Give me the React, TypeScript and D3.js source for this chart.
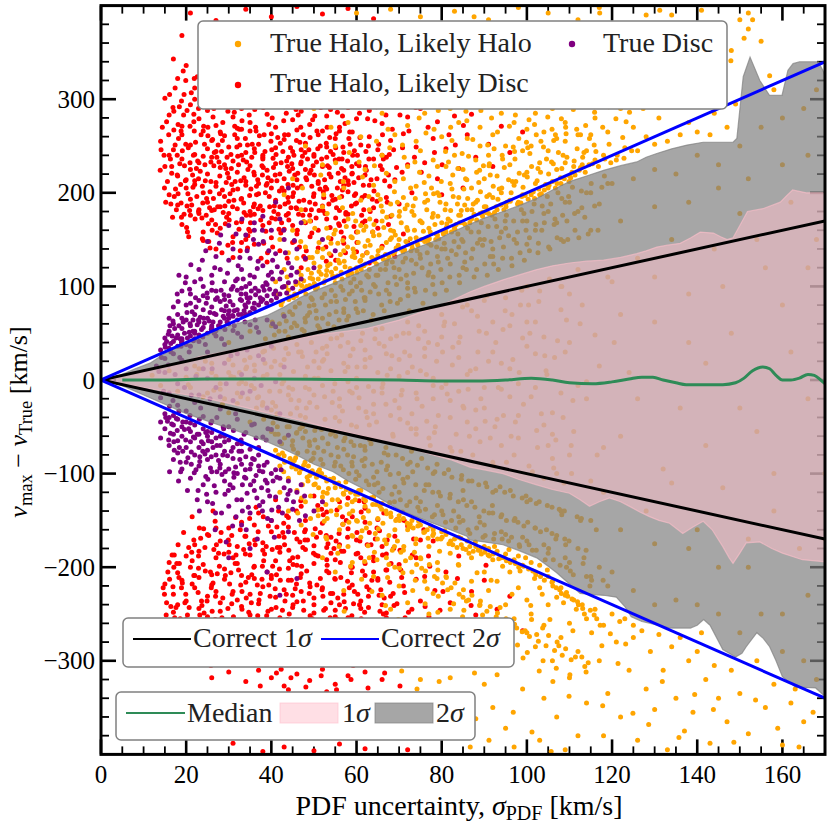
import React from "react";
import * as d3 from "d3";

type P = [number, number];

// ---- axis ticks ----
const X_MAJOR = [0, 20, 40, 60, 80, 100, 120, 140, 160];
const Y_MAJOR = [-300, -200, -100, 0, 100, 200, 300];

// ---- correct-width reference lines (sigma_PDF vs offset) ----
const correct1: P[] = [[0, 0], [170, 170]];
const correct1Low: P[] = [[0, 0], [170, -170]];
const correct2: P[] = [[0, 0], [170, 340]];
const correct2Low: P[] = [[0, 0], [170, -340]];

// ---- running median ----
const median: P[] = [[5,0],[15,0],[25,1],[40,1],[55,0.5],[70,0],[80,-1],[88,-1],[95,0],[101,2],[106,0],[110,-3],[115.5,-4],[120,-2],[124,1],[127,3],[129.6,3],[132,0],[135,-3],[137.4,-5],[141,-5],[146,-5],[149,-3],[151,2],[153,10],[155.4,14],[157,12],[158.5,5],[160,0],[162,0],[164,2],[166,6],[167.5,5],[169,0],[170,-4]];

// ---- 2 sigma band edges ----
const upper2: P[] = [[2,0],[5,6],[8,12],[11.5,18],[15.5,30],[19,38],[23.2,46],[27,52],[31,59],[35,64],[39,69],[43,78],[46.7,88],[50,95],[54.5,103],[58,110],[62.4,118],[66,126],[70.2,134],[74,141],[78,148],[82,157],[85.9,165],[90,173],[94.4,180],[98,186],[102.3,194],[106,203],[110,212],[114,218],[118,224],[122,229],[125.8,233],[128,238],[130.5,242],[134,247],[137.6,251],[141.4,254],[148.4,254],[149.3,258],[150.8,324],[152.4,345],[154.7,320],[157,304],[159.9,304],[161.3,331],[162.5,338],[164,340],[168.4,340],[169.5,331],[170,325]];
const lower2: P[] = [[2,0],[5,-6],[8,-12],[11.5,-19],[15.5,-27],[19,-34],[23.2,-41],[27,-47],[31,-53],[35,-59],[39,-66],[43,-74],[46.7,-82],[50,-90],[54.5,-98],[58,-108],[62.4,-118],[66,-128],[70.2,-139],[74,-146],[78,-153],[82,-160],[85.9,-167],[86.6,-171],[90,-173],[94.4,-176],[98,-182],[102.3,-190],[105,-199],[107,-206],[110,-218],[112.5,-228],[115,-229],[118,-230],[121,-232],[123,-242],[124.5,-253],[127,-258],[129,-260],[133.6,-265],[138.4,-265],[140,-262],[141.5,-256],[143,-262],[146,-288],[149,-296],[150.5,-292],[151.5,-285],[154,-270],[155.5,-276],[157,-285],[158.5,-300],[160,-317],[163,-328],[167.8,-329],[169.5,-336],[170,-338]];

// ---- 1 sigma band edges ----
const upper1: P[] = [[2,0],[5,4],[10,10],[15.5,15],[20,20],[23.2,25],[30,31],[38,38],[46.7,45],[54,50],[62.4,55],[70,64],[78,77],[82,84],[86.6,94],[90,100],[94.4,107],[98,112],[102.3,118],[106,122],[110,125],[114,127],[118,128],[122,131],[125.8,135],[128,138],[130.5,142],[133,144],[136,146],[138.5,152],[140.7,158],[143.8,157],[145.5,153],[147,150],[148.4,152],[150,165],[151.8,180],[155.4,183],[159.5,190],[161,197],[162.4,203],[165.6,200],[169.5,200],[170,199]];
const lower1: P[] = [[2,0],[5,-4],[10,-8],[15,-12],[23.2,-18],[30,-25],[38,-34],[46.7,-43],[54,-52],[62.4,-61],[70,-70],[78,-80],[82,-85],[86.6,-93],[90,-96],[94.4,-100],[98,-106],[102.3,-112],[106,-117],[110,-121],[112.5,-128],[114.7,-135],[117,-130],[119.4,-126],[122,-130],[124.1,-135],[126.5,-141],[128.8,-146],[131,-150],[133.5,-153],[136.6,-164],[139,-157],[141.4,-151],[143.5,-160],[146,-178],[147.5,-190],[148.4,-196],[150,-185],[151.5,-174],[154.7,-173],[157.5,-180],[160,-185],[164.7,-192],[169.5,-194],[170,-194]];

// ---- True Halo, Likely Disc ----
const redUpper: P[] = [[21,392],[27,384],[34,396],[40,388],[46,399],[52,391],[58,397],[31,376],[44,380],[64,386],
[19,368],[24,355],[29,362],[36,348],[41,366],[47,352],[53,371],[57,344],[62,358],[33,341],[49,339],[68,350],[17,343],[26,372],[39,357],
[15,301],[18,322],[22,312],[25,331],[28,305],[31,318],[34,329],[37,309],[40,336],[43,316],[46,302],[49,327],[52,311],[55,334],[58,306],[61,320],[64,330],[67,312],[71,325],[20,336],[30,338],[38,322],[45,331],[54,320],[26,318],[35,302],[48,313],[59,329],[73,308],[77,318],
[16,283],[19,271],[21,294],[23,279],[25,288],[27,272],[29,296],[31,281],[33,290],[35,275],[37,299],[39,284],[41,270],[43,292],[45,278],[47,287],[49,273],[51,296],[53,282],[56,270],[58,291],[60,279],[63,288],[66,274],[69,295],[72,281],[75,290],[22,300],[32,269],[42,298],[52,266],[62,298],[79,276],[82,292],
[14,255],[17,246],[19,262],[21,251],[22,241],[24,266],[26,256],[27,244],[29,261],[30,249],[32,258],[34,243],[35,266],[37,252],[38,240],[40,263],[41,248],[43,257],[45,244],[46,267],[48,253],[50,241],[51,262],[53,249],[55,258],[57,243],[59,265],[61,251],[63,260],[65,246],[68,256],[71,263],[74,249],[25,247],[33,268],[44,262],[36,247],[47,246],[28,265],[56,266],[66,240],[78,258],
[15,228],[18,218],[19,236],[21,225],[22,213],[23,232],[25,220],[26,238],[27,211],[28,227],[30,216],[31,234],[32,222],[33,240],[34,212],[35,229],[36,219],[38,236],[39,224],[40,213],[41,231],[42,220],[44,238],[45,226],[46,214],[47,233],[49,221],[50,239],[51,212],[52,228],[54,217],[55,235],[57,224],[58,213],[60,231],[62,219],[64,236],[66,225],[69,214],[72,230],[20,214],[24,239],[29,230],[37,210],[43,215],[48,225],[53,238],[59,221],[16,240],[67,238],
[16,198],[18,187],[20,205],[21,193],[23,182],[24,200],[25,190],[27,207],[28,185],[29,196],[31,203],[32,183],[33,194],[34,208],[36,188],[37,199],[38,181],[40,205],[41,192],[42,185],[43,202],[45,196],[46,183],[47,207],[49,190],[50,199],[52,186],[53,204],[55,193],[56,181],[58,201],[60,189],[62,197],[64,184],[67,195],[70,188],[22,209],[26,181],[30,191],[35,180],[39,210],[44,190],[48,182],[51,210],[57,208],[63,208],[73,200],
[19,166],[21,176],[24,158],[26,171],[28,162],[30,178],[31,153],[33,169],[35,159],[36,177],[38,165],[40,152],[41,172],[43,161],[44,178],[46,156],[48,168],[49,176],[51,160],[53,172],[54,151],[56,165],[58,177],[60,158],[62,170],[65,162],[68,175],[71,156],[34,150],[45,165],[57,152],[23,178],
[27,140],[31,131],[36,145],[39,126],[42,138],[45,147],[48,129],[51,141],[54,133],[57,146],[60,137],[63,125],[66,143],[69,132],[24,149],[33,147],[47,120],[72,147],
[76,232],[79,215],[81,247],[84,226],[86,262],[88,238],[91,252],[94,271],[83,282],[89,296],[96,243],[99,265],[92,228],[80,198],[85,205]];

const redUpperCore: P[] = [[17.5,204],[18.5,231],[19.5,177],[20.5,248],[21.5,219],[22.5,196],[23.5,262],[24.5,213],[25.5,184],[26.5,229],[27.5,251],[28.5,203],[29.5,174],[30.5,241],[31.5,212],[32.5,268],[33.5,189],[34.5,225],[35.5,252],[36.5,207],[37.5,171],[38.5,244],[39.5,196],[40.5,227],[41.5,259],[42.5,205],[43.5,176],[44.5,248],[45.5,219],[46.5,191],[47.5,262],[48.5,236],[49.5,207],[50.5,173],[51.5,250],[52.5,214],[53.5,188],[54.5,241],[55.5,205],[56.5,226],[57.5,179],[58.5,252],[59.5,197],[60.5,216],
[18.2,258],[19.8,213],[21.3,187],[22.7,234],[24.1,271],[25.6,201],[26.9,166],[28.3,244],[29.7,221],[31.2,192],[32.6,251],[34.1,176],[35.4,238],[36.8,214],[38.3,262],[39.6,185],[41.1,241],[42.4,168],[43.8,228],[45.2,200],[46.7,254],[48.1,216],[49.4,182],[50.9,247],[52.3,195],[53.7,259],[55.1,173],[56.6,236],[58.1,209],[59.5,245],[61.2,176],[62.8,250],[64.1,202],[65.6,229],[67.2,190],[68.7,246],
[19.1,245],[20.4,199],[21.9,266],[23.3,223],[24.8,194],[26.2,257],[27.7,233],[29.1,186],[30.6,226],[32.1,204],[33.4,235],[34.9,197],[36.3,270],[37.8,229],[39.2,216],[40.7,186],[42.1,253],[43.6,234],[45.1,208],[46.4,177],[47.9,243],[49.3,224],[50.7,266],[52.2,201],[53.6,227],[55.1,248],[56.5,196],[57.9,234],[59.4,211],[60.8,259],[62.3,224],[63.7,193],[65.2,252],[66.6,213],
[17.9,219],[20.9,232],[23.8,207],[26.6,243],[29.4,211],[32.3,230],[35.2,204],[38.1,227],[41.3,213],[44.2,223],[47.3,239],[50.1,219],[53.2,229],[56.2,212],[59.1,240],[62.1,228],[18.8,189],[22.1,172],[25.2,167],[28.7,179],[31.8,168],[34.7,161],[37.4,186],[40.1,173],[43.2,188],[46.1,160],[49.2,170],[52.6,178],[55.8,167],[58.8,186],[61.7,182],[64.6,170],[67.8,207],[70.7,222],
[19.4,283],[22.9,290],[26.3,281],[29.8,287],[33.1,277],[36.6,292],[40.2,280],[43.5,285],[46.9,270],[50.2,282],[53.9,289],[57.3,274],[60.7,285],[64.3,277],[21.2,307],[27.4,314],[33.7,312],[39.8,304],[45.6,320],[51.3,303],[57.6,296],[63.4,314],[69.2,302],[24.6,326],[36.2,334],[48.6,342],[60.2,318],
[15.6,212],[16.3,236],[17.1,267],[15.2,190],[16.8,174],[14.8,240],[13.9,224],[18.4,292],[16.1,305],[19.9,320],[14.4,270],
[17.2,196],[18.7,209],[19.9,252],[20.8,181],[21.7,240],[22.4,226],[23.9,189],[24.3,252],[25.8,233],[26.4,194],[27.9,218],[28.1,263],[29.6,238],[30.3,199],[31.9,249],[32.8,213],[33.9,258],[34.2,233],[35.8,185],[36.1,243],[37.9,219],[38.6,200],[39.9,255],[40.4,237],[41.9,202],[42.7,244],[43.9,195],[44.8,231],[45.9,256],[46.2,221],[47.6,192],[48.8,246],[49.8,229],[50.3,188],[51.8,236],[52.7,206],[53.9,244],[54.2,197],[55.7,221],[56.8,249],[57.3,216],[58.9,228],[59.7,188],[60.2,240],[61.6,208],[62.9,236],[63.4,214],[64.8,191],[66.3,236],[67.5,219],
[18.9,174],[20.1,163],[22.9,180],[24.7,176],[26.1,160],[27.4,185],[29.2,167],[30.9,185],[32.4,161],[33.6,179],[35.1,168],[36.9,183],[38.7,159],[40.6,180],[42.2,157],[44.1,171],[45.8,184],[47.4,176],[49.5,157],[51.2,181],[53.8,163],[55.3,184],[57.1,170],[59.4,164],[61.3,195],[63.2,180],[20.6,153],[25.3,148],[29.8,144],[34.4,141],[39.1,136],[43.7,130],[48.2,138],[52.9,127],[57.4,136],[28.4,136],[37.6,130],[46.6,142],
[18.1,273],[20.2,288],[21.8,276],[23.6,297],[25.1,270],[26.7,293],[28.6,275],[30.1,295],[31.4,271],[33.2,300],[34.8,283],[36.4,266],[38.1,291],[39.4,273],[41.6,303],[42.9,277],[44.6,294],[46.3,283],[48.1,298],[49.7,278],[51.6,291],[53.1,270],[54.9,297],[56.7,282],[58.4,265],[60.1,297],[62.6,279],[64.7,292],[66.9,283],[68.4,268],
[17.4,312],[19.3,330],[21.9,322],[23.7,341],[25.9,309],[27.9,330],[29.3,348],[31.8,309],[33.9,324],[35.7,317],[37.4,340],[39.1,319],[41.2,328],[43.3,306],[45.2,341],[47.1,323],[49.9,306],[52.3,330],[54.6,310],[56.9,325],[59.8,312],[62.3,336],[65.3,304],[67.6,327],[70.3,316],
[14.9,205],[15.9,262],[16.6,221],[17.7,182],[15.4,276],[16.9,291],[14.1,246],[17.9,240],[18.9,298],[16.4,188],
[16.6,228],[17.4,251],[18.1,199],[18.8,266],[19.6,229],[20.2,186],[20.9,271],[21.6,206],[22.2,254],[22.9,215],[23.7,173],[24.4,230],[25.1,261],[25.8,212],[26.6,182],[27.2,238],[27.8,199],[28.5,256],[29.3,226],[30.1,171],[30.7,209],[31.4,262],[32.1,239],[32.9,193],[33.6,216],[34.4,251],[35.1,176],[35.9,222],[36.5,198],[37.2,261],[38.0,238],[38.8,208],[39.5,168],[40.1,246],[40.9,219],[41.6,177],[42.3,232],[43.1,262],[43.9,209],[44.6,184],[45.3,240],[46.1,205],[46.9,231],[47.6,169],[48.3,214],[49.1,259],[49.9,196],[50.6,233],[51.4,204],[52.1,181],[52.9,253],[53.6,220],[54.4,192],[55.2,263],[55.9,236],[56.7,203],[57.5,177],[58.2,258],[58.9,220],[59.8,199],[60.6,229],[61.4,168],[62.2,244],
[17.1,287],[19.5,305],[21.8,284],[24.2,300],[26.5,290],[28.9,309],[31.3,286],[33.7,303],[36.1,289],[38.6,309],[40.9,293],[43.3,312],[45.8,289],[48.2,303],[50.6,318],[53.1,300],[55.5,286],[57.9,309],[60.4,294],[62.9,311],[22.6,324],[27.1,336],[31.9,329],[36.7,322],[41.6,340],[46.4,328],[51.1,336],[56.3,341],
[20.3,158],[23.8,151],[27.3,157],[30.9,147],[34.5,154],[38.2,146],[41.8,161],[45.4,148],[49.1,153],[52.8,142],[56.4,158],[60.1,147],[63.8,158],[67.5,166],[25.6,141],[32.7,138],[40.3,142],[47.6,132],[55.1,128],[62.4,136],
[64.8,215],[66.1,262],[67.7,241],[69.4,227],[70.8,248],[72.3,266],[73.6,238],[75.2,222],[76.8,270],[78.3,243],[80.1,230],[81.7,262],[83.2,251],[85.1,272],[87.0,284],[66.9,299],[70.2,283],[73.9,291],[77.4,300],[81.3,309]];

const redLower: P[] = [[37,-142],[41,-128],[44,-147],[47,-135],[50,-124],[53,-141],[56,-130],[59,-146],[62,-137],[65,-149],[40,-150],[48,-150],[58,-126],
[22,-176],[25,-165],[28,-172],[30,-158],[32,-178],[34,-167],[36,-155],[38,-174],[40,-162],[42,-179],[44,-157],[46,-170],[48,-160],[50,-177],[52,-153],[54,-168],[56,-176],[58,-159],[60,-171],[63,-163],[66,-178],[69,-167],[72,-156],[33,-152],[43,-168],[53,-179],[62,-152],[27,-158],
[16,-195],[18,-206],[20,-188],[21,-200],[23,-183],[24,-197],[26,-208],[27,-190],[29,-202],[30,-184],[32,-196],[33,-209],[35,-187],[36,-199],[38,-182],[39,-205],[41,-193],[42,-184],[44,-201],[45,-190],[47,-207],[48,-181],[50,-196],[51,-188],[53,-204],[55,-192],[57,-183],[59,-200],[61,-190],[64,-205],[67,-186],[70,-197],[74,-190],[22,-209],[31,-190],[40,-209],[46,-198],[54,-185],[62,-209],
[15,-218],[17,-229],[19,-214],[20,-236],[22,-222],[23,-211],[25,-231],[26,-219],[28,-238],[29,-213],[31,-226],[32,-235],[34,-216],[35,-229],[37,-239],[38,-221],[40,-212],[41,-232],[43,-224],[44,-214],[46,-237],[47,-226],[49,-217],[50,-233],[52,-222],[54,-238],[55,-213],[57,-229],[59,-219],[61,-236],[63,-224],[65,-214],[68,-231],[71,-220],[75,-236],[18,-240],[27,-226],[36,-212],[45,-230],[56,-240],[66,-240],
[17,-248],[20,-256],[23,-244],[25,-253],[28,-247],[30,-259],[33,-242],[35,-251],[38,-258],[40,-245],[42,-254],[45,-243],[47,-257],[50,-249],[52,-259],[55,-246],[58,-254],[61,-244],[64,-257],[67,-249],[70,-259],[73,-245],[77,-253],
[20,-268],[24,-281],[27,-293],[30,-272],[33,-300],[36,-285],[39,-266],[42,-296],[45,-278],[48,-290],[51,-270],[54,-302],[57,-284],[60,-274],[64,-295],[68,-280],[72,-268],[30,-312],[34,-322],[37,-310],[40,-318],[43,-327],[46,-314],[49,-321],[52,-309],[55,-325],[58,-316],[62,-312],[66,-320],[26,-318],[44,-331],[53,-333],
[22,-345],[28,-362],[35,-350],[41,-372],[47,-356],[53,-378],[59,-348],[65,-366],[31,-388],[43,-392],[50,-396],[56,-389],[38,-397],[62,-394],[72,-395],
[78,-172],[81,-205],[84,-188],[87,-226],[90,-214],[93,-245],[82,-238],[96,-231],[79,-262],[88,-251],[99,-268],[76,-210]];

const redLowerCore: P[] = [[18.3,-211],[19.7,-238],[21.4,-193],[22.8,-227],[24.2,-249],[25.7,-205],[27.1,-176],[28.6,-233],[30.2,-218],[31.7,-187],[33.1,-245],[34.6,-211],[36.1,-171],[37.4,-228],[38.9,-252],[40.3,-199],[41.8,-167],[43.2,-236],[44.7,-214],[46.2,-189],[47.6,-246],[49.1,-221],[50.6,-168],[52.1,-231],[53.5,-206],[55.0,-253],[56.4,-183],[57.9,-215],[59.3,-239],[60.8,-172],[62.4,-221],[64.0,-193],[65.5,-247],[67.1,-203],[68.6,-228],[70.2,-182],
[17.2,-187],[18.9,-222],[20.3,-251],[21.8,-209],[23.4,-169],[24.9,-236],[26.3,-217],[27.8,-199],[29.4,-262],[30.8,-229],[32.3,-203],[33.8,-167],[35.3,-238],[36.7,-219],[38.2,-193],[39.7,-231],[41.2,-208],[42.6,-246],[44.1,-182],[45.6,-223],[47.1,-199],[48.5,-171],[50.0,-240],[51.5,-212],[53.0,-192],[54.4,-228],[55.9,-164],[57.4,-244],[58.8,-206],[60.3,-229],[61.9,-248],[63.4,-176],[65.0,-212],[66.5,-233],[68.1,-196],
[19.6,-268],[22.4,-276],[25.3,-264],[28.1,-283],[31.1,-271],[34.2,-280],[37.1,-266],[40.2,-287],[43.1,-262],[46.3,-279],[49.3,-266],[52.4,-285],[55.5,-268],[58.6,-278],[61.6,-263],[64.9,-270],[23.1,-158],[26.8,-151],[30.7,-166],[34.9,-148],[39.3,-156],[43.6,-145],[47.8,-162],[52.2,-144],[56.8,-154],[61.1,-141],[65.4,-161],[69.5,-149],[73.4,-170],[76.9,-188],[80.3,-226],[83.7,-212],[86.9,-241],[90.4,-198],[94.1,-262],
[16.4,-242],[15.7,-205],[14.9,-229],[16.9,-260],[18.1,-176],[15.3,-251],[19.2,-283],[17.6,-270],[21.1,-297],[25.8,-305],[31.5,-296],[36.9,-303],[42.3,-309],[47.9,-300],[53.6,-296],[59.2,-305],[64.1,-289],
[17.8,-196],[19.1,-217],[20.7,-243],[21.3,-184],[22.9,-201],[23.6,-236],[24.4,-179],[25.9,-222],[26.8,-256],[27.3,-207],[28.9,-186],[29.8,-244],[30.5,-206],[31.1,-253],[32.8,-219],[33.5,-181],[34.1,-233],[35.9,-200],[36.3,-259],[37.8,-213],[38.4,-186],[39.2,-247],[40.9,-223],[41.4,-179],[42.1,-214],[43.8,-256],[44.3,-193],[45.1,-240],[46.8,-211],[47.4,-179],[48.9,-228],[49.6,-255],[50.4,-187],[51.9,-224],[52.7,-244],[53.3,-175],[54.9,-212],[55.6,-233],[56.2,-195],[57.8,-257],[58.3,-222],[59.9,-186],[60.7,-240],[61.4,-204],[62.8,-231],[63.9,-189],[65.7,-224],[66.9,-203],[68.8,-241],[70.6,-211],
[19.4,-163],[21.8,-171],[24.1,-159],[26.5,-181],[28.2,-163],[30.1,-176],[32.7,-160],[34.8,-175],[36.9,-162],[38.8,-178],[41.3,-157],[43.1,-176],[45.4,-163],[47.9,-171],[50.3,-159],[52.9,-166],[55.2,-172],[57.6,-150],[60.1,-163],[62.5,-176],[64.8,-158],[67.2,-171],[45.9,-140],[50.9,-134],[55.4,-139],[60.6,-129],[42.9,-153],[38.1,-146],
[18.6,-255],[20.9,-263],[23.2,-251],[25.6,-271],[27.5,-258],[29.9,-276],[32.2,-260],[34.7,-268],[36.8,-252],[39.3,-274],[41.7,-262],[44.2,-250],[46.5,-268],[48.8,-259],[51.2,-276],[53.8,-254],[56.3,-266],[58.9,-252],[61.3,-272],[63.8,-259],[66.3,-250],[68.9,-266],[71.4,-254],
[16.1,-213],[15.4,-238],[16.7,-187],[17.3,-254],[14.6,-222],[15.9,-271],[18.2,-279],[17.1,-200],
[44.6,-318],[48.1,-328],[51.7,-316],[55.3,-331],[58.7,-320],[62.7,-329],[41.2,-313],[37.4,-327],[66.6,-313],[70.2,-327],
[16.9,-221],[17.6,-243],[18.4,-196],[19.1,-257],[19.9,-229],[20.6,-179],[21.4,-218],[22.1,-262],[22.9,-188],[23.7,-241],[24.5,-204],[25.3,-166],[26.1,-247],[26.9,-231],[27.6,-185],[28.4,-254],[29.2,-209],[29.9,-171],[30.7,-239],[31.5,-196],[32.3,-262],[33.1,-226],[33.9,-186],[34.7,-248],[35.4,-208],[36.2,-176],[37.1,-235],[37.9,-199],[38.6,-263],[39.4,-219],[40.2,-181],[41.1,-243],[41.9,-202],[42.7,-163],[43.5,-229],[44.3,-261],[45.1,-197],[45.9,-218],[46.7,-173],[47.5,-236],[48.3,-204],[49.1,-252],[49.9,-185],[50.7,-219],[51.5,-163],[52.3,-246],[53.1,-198],[53.9,-228],[54.7,-180],[55.5,-256],[56.3,-211],[57.1,-237],[57.9,-168],[58.7,-200],[59.5,-226],[60.3,-185],[61.1,-255],[62.0,-196],[62.8,-243],[63.6,-214],[64.4,-170],[65.3,-230],[66.1,-187],[67.0,-254],[67.8,-216],[68.7,-180],[69.5,-239],[70.4,-203],[71.3,-227],[72.2,-248],[73.1,-187],[74.0,-213],[75.0,-171],[76.1,-242],[77.2,-199],[78.4,-225],[79.6,-246],
[21.4,-146],[26.3,-140],[31.6,-147],[36.4,-136],[41.7,-140],[46.9,-129],[51.8,-138],[56.7,-146],[61.8,-130],[66.4,-142],[71.2,-150],[75.8,-160],
[19.8,-276],[24.1,-284],[28.6,-270],[33.4,-290],[37.8,-279],[42.5,-271],[47.2,-288],[51.9,-277],[56.6,-290],[61.3,-282],[65.9,-276],[70.4,-284],[74.8,-270]];

// ---- True Halo, Likely Halo ----
const orangeUpper: P[] = [[41,105],[43,118],[44,96],[46,130],[47,112],[48,142],[49,101],[50,125],[42,150],[45,160],[49,170],[44,136],[47,182],
[51,108],[52,131],[53,117],[54,146],[55,104],[55,160],[56,125],[57,138],[58,112],[58,172],[59,152],[60,120],[52,185],[56,195],[59,132],[53,162],[57,205],
[61,128],[61,165],[62,143],[63,118],[63,182],[64,154],[65,133],[65,198],[66,170],[67,124],[67,147],[68,188],[68,160],[69,137],[69,212],[70,175],[62,225],[66,240],[64,208],[61,192],[67,221],[70,150],
[71,140],[71,195],[72,160],[72,228],[73,145],[73,180],[74,207],[74,152],[75,170],[75,245],[76,148],[76,190],[77,218],[77,162],[78,178],[78,235],[79,155],[79,200],[80,168],[80,260],[72,272],[76,285],[74,255],[79,228],[71,215],
[81,158],[81,188],[82,210],[82,170],[83,240],[83,162],[84,195],[84,176],[85,225],[85,168],[86,258],[86,182],[87,205],[87,172],[88,235],[88,190],[89,178],[89,270],[90,215],[90,185],[82,290],[86,305],[84,275],[88,320],[89,250],[81,228],
[91,178],[91,240],[92,195],[92,262],[93,182],[93,218],[94,285],[94,200],[95,188],[95,250],[96,230],[96,192],[97,275],[97,208],[98,190],[98,300],[99,245],[99,198],[100,222],[100,268],[92,310],[95,335],[97,320],[93,345],[100,292],
[101,198],[101,250],[102,285],[102,210],[103,232],[103,198],[104,265],[104,315],[105,205],[105,245],[106,290],[106,212],[107,258],[107,225],[108,340],[108,210],[109,275],[109,232],[110,218],[110,305],[103,360],[106,375],[101,330],[109,255],
[111,228],[112,262],[113,300],[113,230],[114,245],[115,320],[116,235],[116,280],[117,355],[118,240],[119,265],[120,305],[121,235],[122,290],[123,248],[124,340],[125,270],[112,385],[119,380],[115,262],[122,372],[118,328],
[126,245],[127,305],[128,260],[129,350],[130,252],[131,280],[132,322],[133,255],[134,298],[135,370],[136,262],[137,315],[138,275],[139,345],[140,265],[141,300],[142,330],[143,262],[144,285],[145,378],[146,310],[147,270],[148,352],[149,295],[150,385],[151,365],[152,392],[152,375],[153,385],[155,362],[158,310],[157,325],[134,390],[141,395],[128,390],
[52,230],[55,250],[58,275],[61,260],[63,300],[66,285],[69,262],[71,310],[74,298],[57,318],[60,340],[50,290],[54,270],[65,330],[75,335],[78,310],[45,215],[48,250],[43,198],
[68,396],[75,388],[83,394],[91,385],[98,398],[105,392],[117,398],[60,392],[88,372],[79,360],[70,365],[85,345],
[45.5,92],[46.3,104],[47.8,97],[48.6,118],[49.7,108],[50.8,99],[51.4,121],[52.9,112],[53.6,135],[54.8,109],[55.7,128],[56.4,115],[57.9,142],[58.5,119],[59.6,131],[60.4,147],[61.7,122],[62.5,136],[63.8,158],[64.3,129],[65.9,141],[66.4,163],[67.6,132],[68.2,152],[69.8,144],[70.5,168],[71.3,139],[72.6,151],[73.5,176],[74.2,147],[75.7,159],[76.5,182],[77.1,151],[78.4,166],[79.6,190],[80.3,158],[81.5,172],[82.7,196],[83.4,166],[84.6,181],[85.2,204],[86.8,172],[87.4,188],[88.7,211],[89.5,179],[90.6,196],[91.4,219],[92.8,185],[93.5,204],[94.7,227],[95.3,190],[96.6,212],[97.2,236],[98.8,196],[99.4,219],[100.7,242],[101.5,201],[102.6,226],[103.9,249],[104.4,209],[105.8,233],[106.3,256],[107.9,216],[108.5,240],[109.2,263],[110.6,222],[111.8,247],[113.1,238],[114.7,258],[116.2,244],[117.8,270],[119.3,252],[120.9,279],[122.5,259],[124.1,286],
[46.9,148],[50.2,162],[53.1,178],[56.7,184],[59.8,170],[62.9,196],[65.8,186],[68.9,201],[71.9,187],[74.8,222],[77.6,205],[80.9,244],[83.8,226],[86.3,239],[89.8,229],[92.3,247],[95.9,271],[98.1,258],[101.8,273],[104.9,281],[107.2,300],[110.9,289],[113.8,272],[116.9,301],[120.2,322],[123.7,311],[127.3,290],[130.6,335],[133.9,318],[137.2,300],[140.8,358],[144.6,327],[147.9,341],[126.5,372],[138.6,381],[114.4,362],[131.2,395],
[47.3,205],[51.6,219],[55.1,232],[58.3,243],[61.4,217],[64.7,255],[67.4,268],[70.8,251],[73.7,233],[76.3,264],[79.2,288],[82.1,270],[85.7,287],[88.4,303],[91.7,280],[94.5,299],[97.8,313],[100.9,352],[103.6,330],[106.8,348],[109.7,321],[113.4,342],[117.1,392],[121.8,352],[96.3,371],[87.6,388],[78.8,341],[72.4,378],[66.1,352],[58.7,365],[53.2,345],[49.4,312],[55.8,298],
[45.2,88],[46.9,95],[47.6,106],[48.3,100],[49.4,114],[50.1,103],[51.7,113],[52.3,104],[53.8,124],[54.1,115],[55.5,111],[56.2,134],[57.3,121],[58.9,114],[59.2,140],[60.8,127],[61.1,118],[62.7,149],[63.6,131],[64.7,124],[65.3,155],[66.8,134],[67.2,128],[68.7,159],[69.3,141],[70.9,137],[71.8,163],[72.2,145],[73.1,141],[74.9,170],[75.2,150],[76.9,146],[77.8,174],[78.7,156],[79.3,151],[80.8,182],[81.1,163],[82.3,158],[83.7,188],[84.2,168],[85.5,166],[86.1,194],[87.6,177],[88.2,171],[89.1,201],[90.3,179],[91.8,176],[92.1,207],[93.9,187],[94.6,182],[95.7,214],[96.1,191],[97.8,188],[98.2,221],[99.6,197],[100.3,193],[101.1,228],[102.8,204],[103.4,199],[104.6,236],[105.2,208],[106.7,205],[107.4,243],[108.8,215],[109.9,212],[111.3,219],[112.6,227],[113.7,222],[115.4,231],[116.8,228],[118.3,236],[119.7,232],[121.2,240],[122.8,237],[124.6,245],
[48.9,131],[51.2,147],[54.7,156],[57.6,164],[60.3,158],[63.1,172],[66.1,180],[68.3,176],[71.4,183],[73.8,194],[76.2,199],[79.9,212],[82.6,219],[85.9,214],[88.9,224],[91.2,231],[94.2,240],[96.8,249],[99.9,254],[102.2,262],[105.9,268],[108.1,279],[111.7,268],[115.9,286],[119.2,292],[123.3,276],[50.8,137],[53.4,152],[56.8,149],[59.1,178],[62.2,164],[65.6,193],[69.6,190],[72.7,205],[75.9,211],[78.1,199],[81.6,233],[84.8,242],[87.3,257],[90.8,251],[93.1,265],[97.3,283],[100.5,278],[104.1,296],[107.8,312],[45.8,102],[44.3,89],[42.6,84],[41.5,92],[43.7,110],
[42.3,80],[44.1,86],[45.9,90],[47.1,101],[48.1,92],[49.1,109],[50.4,97],[51.2,116],[52.6,106],[53.2,122],[54.4,111],[55.1,119],[56.6,108],[57.1,127],[58.3,116],[59.4,136],[60.1,115],[61.4,133],[62.1,124],[63.2,144],[64.1,127],[65.1,138],[66.3,129],[67.9,150],[68.6,135],[69.1,155],[70.2,140],[71.6,148],[72.8,138],[73.6,160],[74.4,144],[75.4,168],[76.3,150],[77.3,158],[78.6,150],[79.1,175],[80.4,156],[81.2,167],[82.1,181],[83.1,161],[84.4,176],[85.4,187],[86.6,168],[87.1,182],[88.4,192],[89.6,175],[90.4,185],[91.2,198],[92.4,179],[93.2,193],[94.1,205],[95.1,185],[96.3,200],[97.4,212],[98.6,189],[99.1,206],[100.1,217],[101.8,194],[102.4,213],[103.2,222],[104.1,203],[105.1,220],[106.2,231],[107.1,210],[108.2,226],[109.4,238],[110.3,216],[111.1,234],[112.3,224],[113.4,243],[114.6,230],[115.8,251],
[43.4,100],[46.4,116],[49.6,131],[52.1,140],[55.6,146],[58.7,153],[61.7,160],[64.1,166],[67.1,174],[70.1,180],[73.3,186],[76.7,192],[79.4,197],[82.4,204],[85.6,215],[88.2,222],[91.1,229],[94.3,236],[97.1,244],[100.2,248],[103.3,255],[106.7,262],[109.1,270],[112.6,262],
[47.7,169],[52.3,198],[56.9,212],[60.6,233],[64.2,229],[67.8,248],[71.2,238],[74.7,280],[78.2,268],[82.4,256],[85.9,277],[89.2,288],[92.9,302],[96.1,294],[99.6,309],[102.8,318],[106.4,329]];

const orangeLower: P[] = [[41,-75],[42,-92],[43,-81],[44,-105],[45,-88],[46,-118],[47,-95],[48,-130],[49,-102],[50,-112],[44,-140],[47,-155],[42,-120],
[51,-98],[52,-125],[53,-108],[54,-140],[55,-115],[56,-160],[57,-122],[58,-178],[59,-130],[60,-150],[52,-190],[55,-205],[57,-225],[59,-195],[53,-170],[51,-145],
[61,-118],[61,-168],[62,-135],[63,-190],[64,-125],[64,-210],[65,-148],[66,-230],[66,-132],[67,-175],[68,-142],[68,-245],[69,-160],[69,-200],[70,-145],[70,-220],[62,-258],[65,-272],[67,-190],
[71,-148],[71,-182],[72,-160],[72,-238],[73,-150],[73,-205],[74,-170],[74,-265],[75,-155],[75,-190],[76,-215],[76,-162],[77,-250],[77,-178],[78,-160],[78,-228],[79,-195],[79,-170],[80,-162],[80,-278],[73,-290],[78,-300],[75,-320],[72,-345],[79,-360],
[81,-165],[81,-210],[82,-185],[82,-245],[83,-170],[83,-262],[84,-198],[84,-168],[85,-232],[85,-180],[86,-270],[86,-172],[87,-215],[87,-190],[88,-178],[88,-290],[89,-240],[89,-182],[90,-205],[90,-178],[82,-318],[85,-340],[88,-362],[84,-380],[90,-325],
[91,-180],[91,-225],[92,-192],[92,-260],[93,-183],[93,-215],[94,-280],[94,-190],[95,-240],[95,-186],[96,-205],[96,-300],[97,-192],[97,-255],[98,-188],[98,-222],[99,-198],[99,-330],[100,-235],[100,-270],[92,-350],[95,-372],[97,-392],[93,-315],
[101,-195],[101,-250],[102,-205],[102,-285],[103,-198],[103,-222],[104,-262],[104,-340],[105,-210],[105,-240],[106,-300],[106,-215],[107,-232],[107,-360],[108,-222],[108,-275],[109,-230],[110,-260],[110,-318],[111,-235],[112,-290],[113,-240],[114,-255],[114,-345],[112,-380],[109,-395],[103,-385],
[116,-245],[117,-300],[118,-262],[119,-335],[120,-250],[121,-280],[122,-360],[123,-255],[124,-310],[125,-275],[126,-385],[127,-268],[128,-330],[129,-290],[130,-352],[131,-272],[132,-310],[133,-395],[134,-285],[135,-340],[136,-275],[137,-375],[138,-300],[139,-355],[140,-290],[142,-320],[143,-388],[144,-305],[145,-340],[147,-365],[148,-310],[150,-335],[152,-378],[154,-300],[156,-350],[158,-325],[160,-390],[162,-345],[165,-365],[163,-330],[141,-270],[125,-262],[118,-380],
[45.4,-86],[46.6,-99],[47.3,-112],[48.7,-92],[49.2,-124],[50.6,-104],[51.3,-96],[52.8,-133],[53.4,-116],[54.6,-105],[55.3,-144],[56.9,-121],[57.5,-109],[58.2,-152],[59.7,-128],[60.5,-118],[61.3,-161],[62.8,-140],[63.4,-126],[64.9,-170],[65.5,-135],[66.2,-153],[67.8,-131],[68.4,-182],[69.6,-149],[70.8,-141],[71.5,-193],[72.3,-157],[73.9,-175],[74.6,-151],[75.3,-201],[76.8,-169],[77.4,-156],[78.9,-212],[79.5,-183],[80.7,-161],[81.4,-224],[82.6,-176],[83.9,-197],[84.5,-169],[85.8,-236],[86.4,-185],[87.9,-173],[88.3,-206],[89.6,-251],[90.9,-187],[91.6,-214],[92.4,-178],[93.7,-243],[94.3,-199],[95.8,-181],[96.5,-229],[97.6,-265],[98.4,-204],[99.7,-190],[100.9,-241],[101.8,-212],[102.3,-272],[103.6,-229],[104.8,-203],[105.4,-256],[106.9,-222],[107.5,-284],[108.6,-238],[109.3,-227],[110.8,-268],[111.6,-245],[112.9,-296],[113.5,-250],[115.2,-270],
[46.2,-142],[49.8,-165],[52.4,-151],[55.9,-178],[58.9,-166],[61.9,-194],[64.2,-184],[67.3,-211],[70.1,-201],[73.2,-225],[76.1,-239],[79.1,-248],[81.9,-261],[84.9,-253],[87.2,-276],[90.3,-268],[93.1,-285],[96.2,-274],[99.1,-297],[102.9,-311],[106.1,-322],[109.9,-338],[113.9,-312],[117.8,-348],[121.4,-303],[124.9,-356],[128.6,-368],[131.8,-322],[135.7,-382],[139.4,-336],[143.8,-352],[148.6,-387],[153.7,-342],[158.9,-372],[163.9,-392],[167.2,-355],
[57.1,-247],[60.9,-262],[63.8,-281],[67.9,-298],[70.6,-311],[74.2,-330],[77.7,-352],[81.3,-371],[86.7,-392],[91.1,-385],[96.8,-355],[101.2,-376],[105.7,-397],[79.4,-322],
[45.7,-83],[46.2,-93],[47.9,-88],[48.4,-104],[49.6,-97],[50.3,-111],[51.8,-100],[52.2,-120],[53.7,-106],[54.3,-128],[55.8,-110],[56.1,-136],[57.6,-117],[58.3,-143],[59.8,-122],[60.2,-151],[61.7,-127],[62.3,-158],[63.8,-133],[64.4,-164],[65.9,-138],[66.6,-171],[67.1,-143],[68.9,-178],[69.2,-150],[70.4,-184],[71.9,-153],[72.7,-190],[73.3,-158],[74.1,-197],[75.8,-163],[76.2,-204],[77.9,-166],[78.3,-210],[79.8,-170],[80.2,-217],[81.7,-175],[82.2,-222],[83.6,-179],[84.1,-229],[85.7,-181],[86.3,-235],[87.4,-183],[88.9,-241],[89.3,-186],[90.6,-247],[91.2,-188],[92.8,-253],[93.4,-191],[94.9,-258],[95.2,-193],[96.8,-263],[97.3,-196],[98.9,-269],[99.2,-199],[100.6,-274],[101.4,-204],[102.7,-279],[103.2,-210],[104.5,-284],[105.9,-216],[106.5,-289],[107.7,-224],[108.3,-294],[109.6,-231],[110.4,-299],[111.9,-237],[113.1,-244],[114.4,-302],[115.8,-251],[117.2,-262],[119.6,-271],[121.8,-258],[123.2,-282],
[47.1,-126],[50.9,-139],[53.1,-148],[56.8,-154],[59.1,-167],[62.7,-177],[64.8,-192],[67.6,-197],[70.9,-206],[73.8,-214],[76.6,-223],[79.2,-231],[82.8,-239],[85.2,-246],[88.1,-257],[91.7,-263],[94.1,-272],[97.8,-283],[100.1,-291],[103.8,-300],[106.9,-308],[110.1,-315],[49.2,-148],[52.8,-168],[55.6,-185],[58.6,-199],[61.2,-213],[63.6,-226],[66.8,-241],[69.8,-256],[72.9,-262],[75.1,-276],[78.6,-287],[81.1,-296],[84.3,-304],[87.7,-313],[44.8,-93],[43.1,-88],[41.7,-80],[42.9,-98],
[42.6,-78],[44.4,-84],[45.8,-95],[47.6,-91],[48.6,-108],[49.9,-100],[51.1,-115],[52.6,-104],[53.1,-121],[54.9,-110],[55.6,-128],[56.4,-114],[57.8,-133],[58.6,-120],[59.1,-140],[60.4,-122],[61.6,-147],[62.1,-129],[63.1,-153],[64.6,-133],[65.1,-159],[66.9,-140],[67.6,-166],[68.1,-146],[69.6,-172],[70.1,-150],[71.1,-178],[72.6,-154],[73.6,-184],[74.4,-156],[75.1,-191],[76.6,-160],[77.1,-197],[78.1,-164],[79.1,-203],[80.1,-168],[81.1,-211],[82.1,-172],[83.1,-217],[84.6,-176],[85.1,-224],[86.6,-178],[87.1,-230],[88.6,-182],[89.1,-236],[90.1,-184],[91.4,-242],[92.1,-186],[93.1,-249],[94.6,-190],[95.1,-255],[96.1,-195],[97.1,-261],[98.1,-200],[99.6,-268],[100.4,-202],[101.1,-256],[102.1,-208],[103.7,-265],[104.1,-214],[105.1,-273],[106.1,-220],[107.1,-280],[108.1,-228],[109.1,-287],[110.6,-234],[111.4,-296],[112.1,-240],[113.6,-306],[114.9,-246],[116.4,-255],[117.6,-284]];

const orangeInside: P[] = [[12,5],[14,-6],[16,10],[18,-12],[20,3],[22,15],[24,-18],[26,8],[28,-4],[30,22],[32,-25],[34,12],[36,-9],[38,30],[40,-32],[42,6],[44,-16],[46,38],[48,-40],[50,20],[52,-6],[54,44],[56,-28],[58,14],[60,-50],[62,32],[64,-12],[66,55],[68,-38],[70,4],[72,62],[74,-58],[76,25],[78,-20],[80,70],[82,-72],[84,40],[86,-45],[88,12],[90,85],[92,-88],[94,-10],[96,58],[98,-62],[100,100],[102,28],[104,-105],[106,-35],[108,75],[110,-80],[112,118],[114,-20],[116,48],[118,-120],[120,105],[122,-60],[124,8],[126,130],[128,-140],[130,62],[132,-95],[134,150],[136,-30],[138,92],[140,-160],[142,18],[144,140],[146,-115],[148,50],[150,178],[152,-170],[154,-55],[156,120],[158,-140],[160,80],[162,190],[164,-180],[166,-20],[168,150],[170,-100],
[30,40],[35,52],[40,58],[45,70],[50,80],[55,90],[60,100],[65,112],[70,118],[75,130],[80,140],[85,148],[90,150],[95,162],[100,170],[105,180],[110,190],[115,200],[120,210],[125,215],[130,225],[135,220],[140,240],[145,230],[150,250],[155,270],[160,280],[165,290],[168,310],[62,85],[78,110],[92,132],[108,150],[122,170],[138,190],[152,215],[166,240],[85,120],[100,145],[115,160],[130,185],[145,205],[160,230],[72,98],[57,72],[48,62],
[30,-35],[35,-45],[40,-55],[45,-65],[50,-78],[55,-88],[60,-98],[65,-110],[70,-120],[75,-130],[80,-140],[85,-150],[90,-155],[95,-165],[100,-172],[105,-185],[110,-195],[115,-210],[120,-205],[125,-225],[130,-240],[135,-235],[140,-240],[145,-250],[150,-270],[155,-250],[160,-290],[165,-300],[168,-320],[62,-75],[78,-100],[92,-120],[108,-140],[122,-160],[138,-180],[152,-200],[166,-230],[85,-118],[100,-130],[115,-150],[130,-175],[145,-200],[160,-250],[72,-90],[57,-65],[48,-55],
[21,-8],[23,12],[25,-14],[27,4],[29,-20],[31,16],[33,-2],[35,24],[37,-18],[39,6],[41,-28],[43,22],[45,-10],[47,30],[49,-24],[51,2],[53,36],[55,-40],[57,18],[59,-14],[61,42],[63,-48],[65,8],[67,28],[69,-22],[71,50],[73,-36],[75,10],[77,-62],[79,38],[81,-4],[83,60],[85,-28],[87,74],[89,-66],[91,20],[93,-42],[95,88],[97,-80],[99,45],[101,-18],[103,95],[105,-70],[107,-100],[109,30],[111,-55],[113,80],[115,-108],[117,15],[119,110],
[24.5,20],[28.5,-26],[32.5,8],[36.5,-30],[40.5,34],[44.5,-36],[48.5,14],[52.5,-18],[56.5,48],[60.5,-30],[64.5,54],[68.5,-58],[72.5,26],[76.5,-44],[80.5,58],[84.5,-76],[88.5,30],[92.5,-50],[96.5,70],[100.5,-92],[104.5,10],[108.5,-40],[112.5,60],[116.5,-80],[120.5,40],
[58,-2],[62,14],[66,-8],[70,22],[74,-14],[78,2],[82,-22],[86,6],[90,-30],[94,18],[98,-4],[102,62],[106,-58],[110,92],[114,-2],[118,-72],[122,70],[126,-20],[130,110],[134,-110],[138,40],[142,-70],[146,100],[150,-30],[154,150],[158,-100],[162,30],[166,120],[170,-170],
[46,58],[49,72],[52,66],[54,84],[57,76],[59,95],[62,88],[64,102],[67,96],[69,110],[72,104],[74,124],[77,115],[79,132],[82,124],[84,142],[87,130],[89,150],[92,140],[94,158],[97,150],[99,170],[102,160],[104,178],[107,168],[109,190],[112,180],[114,200],[117,188],[119,210],
[46,-56],[49,-70],[52,-62],[54,-80],[57,-74],[59,-92],[62,-84],[64,-104],[67,-96],[69,-114],[72,-104],[74,-126],[77,-112],[79,-134],[82,-122],[84,-146],[87,-130],[89,-152],[92,-142],[94,-162],[97,-150],[99,-168],[102,-158],[104,-176],[107,-166],[109,-190],[112,-180],[114,-210],[117,-200],[119,-220],
[41.8,52],[43.5,63],[47.2,54],[48.9,79],[50.6,66],[51.9,88],[53.3,60],[55.2,73],[56.8,96],[58.1,68],[59.7,84],[60.9,104],[61.6,74],[63.2,94],[64.6,112],[65.9,80],[67.4,104],[68.8,120],[70.3,86],[71.7,112],[72.9,128],[73.8,94],[75.4,120],[76.6,136],[77.9,102],[79.2,126],[80.8,140],[81.9,110],[83.4,134],[84.7,150],[85.8,118],[87.3,140],[88.7,158],[90.1,124],[91.6,148],[92.9,164],[94.3,130],[95.7,154],[96.9,170],[98.4,136],[99.8,160],[101.2,180],[102.7,146],[104.1,168],[105.6,188],[107.1,152],[108.4,176],[109.8,196],[111.3,160],[112.9,184],
[41.4,-50],[43.1,-62],[46.7,-52],[48.4,-76],[50.2,-64],[51.6,-85],[53.9,-58],[55.5,-72],[56.3,-92],[58.7,-66],[59.3,-82],[60.6,-102],[61.9,-71],[63.7,-90],[64.2,-112],[66.5,-78],[67.9,-101],[68.3,-122],[70.8,-84],[71.1,-110],[72.5,-130],[74.3,-91],[75.9,-118],[76.2,-138],[78.4,-98],[79.7,-124],[80.3,-144],[82.4,-104],[83.9,-130],[84.2,-152],[86.3,-108],[87.8,-136],[88.2,-158],[90.6,-114],[91.1,-142],[92.4,-164],[94.8,-120],[95.2,-150],[96.4,-168],[98.9,-126],[99.3,-156],[100.5,-176],[102.2,-132],[104.6,-160],[105.1,-180],[107.6,-138],[108.9,-170],[109.3,-200],[111.8,-146],[113.4,-190],
[20.5,-5],[22.5,6],[26.5,-11],[30.5,4],[34.5,-20],[38.5,18],[42.5,-4],[46.5,-22],[50.5,30],[54.5,-12],[58.5,26],[62.5,-40],[66.5,36],[70.5,-16],[74.5,44],[78.5,-50],[82.5,16],[86.5,-60],[90.5,50],[94.5,-38],[98.5,80],[102.5,-72],[106.5,24],[110.5,-100],[44,46],[48,-8],[52,20],[56,-44],[60,2],[64,-26],[68,12],[72,-46],[76,52],[80,-8],[84,24],[88,-32],[92,62],[96,-18],[100,36],[104,-48],[108,100],[112,-6],
[38.6,44],[40.2,62],[42.8,70],[44.7,56],[45.6,78],[47.9,66],[49.3,88],[50.9,58],[52.7,80],[54.1,96],[55.9,64],[57.4,86],[58.6,104],[59.9,76],[61.2,96],[62.8,110],[63.9,70],[65.2,92],[66.8,118],[67.9,84],[69.4,102],[70.9,126],[72.1,90],[73.4,114],[74.9,134],[76.2,96],[77.4,124],[78.8,142],[80.1,104],[81.4,130],[82.9,148],[84.1,112],[85.6,136],[86.9,158],[88.2,118],[89.6,144],[90.9,164],[92.2,124],[93.6,152],[94.9,170],[96.4,130],[97.8,158],[99.3,178],[100.6,138],[102.1,166],[103.6,186],[105.1,142],[106.6,172],[108.2,194],[109.6,150],[111.2,178],[112.8,202],[114.4,156],[115.9,186],[117.6,206],
[38.2,-42],[40.9,-58],[42.4,-68],[44.2,-50],[45.2,-74],[47.4,-62],[49.8,-84],[50.2,-54],[52.3,-76],[54.8,-92],[55.1,-60],[57.9,-80],[58.2,-100],[59.4,-70],[61.8,-92],[62.3,-108],[63.4,-68],[65.8,-88],[66.2,-116],[67.4,-80],[69.9,-100],[70.3,-128],[72.6,-88],[73.9,-112],[74.4,-136],[76.7,-94],[77.9,-120],[78.3,-144],[80.6,-100],[81.9,-126],[82.3,-150],[84.6,-106],[85.9,-134],[86.2,-160],[88.7,-112],[89.9,-140],[90.2,-166],[92.7,-118],[93.9,-146],[94.2,-170],[96.8,-124],[97.9,-152],[98.2,-176],[100.8,-128],[101.9,-158],[102.2,-182],[104.8,-134],[105.9,-164],[106.2,-192],[108.8,-140],[109.9,-172],[110.2,-204],[112.8,-148],[113.9,-182],[115.2,-214],
[26,18],[28,-10],[30,8],[32,-14],[34,-4],[36,16],[38,-24],[40,14],[42,-12],[44,28],[46,-30],[48,4],[50,-16],[52,34],[54,10],[56,-20],[58,40],[60,-8],[62,22],[64,-36],[66,-14],[68,44],[70,-30],[72,8],[74,-52],[76,34],[78,-6],[80,46],[82,-40],[84,-12],[86,80],[88,-52],[90,-8],[92,30],[94,-70],[96,12],[98,-38],[100,62],[102,-8],[104,46],[106,-84],[108,-14],[110,40],
[31.2,3],[32.8,-18],[33.7,21],[35.3,-6],[36.1,10],[37.9,-27],[38.4,31],[39.6,-12],[40.8,20],[41.3,-36],[42.9,-1],[43.4,34],[44.6,-21],[45.2,9],[46.8,-38],[47.3,25],[48.9,-10],[49.4,40],[50.7,-29],[51.2,13],[52.6,-42],[53.1,28],[54.9,-4],[55.4,45],[56.7,-33],[57.3,9],[58.8,-48],[59.2,33],[60.6,-19],[61.4,50],[62.8,-7],[63.2,24],[64.7,-45],[65.3,39],[66.9,-26],[67.2,5],[68.6,-60],[69.4,47],[70.7,-11],[71.3,30],[72.8,-52],[73.1,14],[74.6,58],[75.4,-28],[76.9,40],[77.3,-70],[78.8,20],[79.2,-38],[80.7,62],[81.3,-15],[82.6,35],[83.4,-58],[84.9,78],[85.2,-30],[86.7,10],[87.3,-80],[88.8,52],[89.2,-20],[90.6,90],[91.4,-62],[92.7,40],[93.3,-8],[94.9,74],[95.2,-88],[96.7,22],[97.3,-45],[98.8,96],[99.2,-26],[100.7,50],[101.3,-98],[102.8,84],[103.4,-36],[104.7,6],[105.3,108],[106.8,-64],[107.2,42],[108.7,-110],[109.3,64],[110.8,-22],
[32.4,-4],[34.2,14],[36.7,-19],[38.1,4],[40.3,-24],[42.2,16],[44.1,-8],[46.4,30],[48.2,-30],[50.1,2],[52.3,22],[54.3,-24],[56.2,36],[58.4,-12],[60.1,14],[62.2,-34],[64.3,44],[66.2,-4],[68.3,26],[70.2,-42],[72.3,50],[74.2,-20],[76.4,6],[78.3,-56],[80.2,30],[82.4,-76],[84.3,46],[86.2,-10],[88.4,68],[90.2,-44],[92.3,-92],[94.4,54],[96.3,-60],[98.2,8],[100.4,80],[102.3,-54],[104.2,26],[106.3,-94],[108.2,100],[110.4,-70],
[40.7,48],[41.9,60],[43.2,52],[44.3,73],[45.4,61],[46.6,82],[47.7,52],[48.5,69],[49.6,86],[50.5,74],[51.3,55],[52.5,92],[53.6,70],[54.7,57],[55.3,84],[56.3,100],[57.7,64],[58.3,92],[59.4,108],[60.3,72],[61.8,88],[62.4,112],[63.5,64],[64.4,100],[65.6,118],[66.5,74],[67.7,92],[68.4,126],[69.6,82],[70.4,108],[71.5,130],[72.4,74],[73.6,98],[74.2,138],[75.6,82],[76.8,112],[77.5,144],[78.4,92],[79.8,118],[80.6,146],[81.1,96],[82.3,138],[83.8,156],[84.2,104],[85.4,126],[86.1,162],[87.6,110],[88.4,146],[89.3,168],[90.7,112],[91.4,132],[92.5,172],[93.3,118],[94.5,142],[95.2,176],[96.5,122],[97.6,146],[98.7,182],[99.4,128],[100.6,152],[101.7,188],[102.6,136],[103.5,160],[104.8,196],[105.4,140],[106.4,166],[107.3,200],[108.6,148],[109.4,170],[110.7,206],[112.2,152],[113.6,174],[115.1,210],[116.7,160],[118.2,218],
[40.4,-46],[41.6,-58],[43.7,-50],[44.9,-70],[45.9,-57],[46.2,-78],[47.3,-50],[48.9,-66],[49.3,-86],[50.9,-72],[51.8,-53],[52.1,-90],[53.3,-68],[54.4,-56],[55.7,-82],[56.9,-96],[57.3,-62],[58.9,-88],[59.8,-106],[60.9,-70],[61.3,-86],[62.9,-112],[63.1,-64],[64.8,-98],[65.3,-120],[66.9,-72],[67.3,-92],[68.9,-130],[69.3,-80],[70.9,-106],[71.8,-134],[72.9,-76],[73.2,-98],[74.8,-140],[75.3,-84],[76.3,-112],[77.8,-146],[78.9,-90],[79.3,-120],[80.9,-152],[81.6,-96],[82.8,-140],[83.3,-158],[84.7,-102],[85.1,-128],[86.6,-164],[87.1,-108],[88.8,-146],[89.7,-168],[90.3,-110],[91.9,-134],[92.2,-170],[93.7,-114],[94.1,-144],[95.7,-172],[96.1,-118],[97.2,-148],[98.3,-178],[99.8,-124],[100.2,-152],[101.3,-182],[102.9,-130],[103.2,-162],[104.3,-192],[105.9,-136],[106.8,-170],[107.8,-198],[108.2,-144],[109.1,-176],[110.9,-208],[112.6,-150],[113.2,-196],[114.8,-220],[116.3,-160],[117.9,-214]];

// ---- True Disc ----
const purpleUpper: P[] = [[14,32],[15,38],[15,45],[16,34],[16,52],[17,41],[17,60],[18,36],[18,48],[18,70],[19,55],[19,42],[20,64],[20,38],[20,80],[21,47],[21,58],[21,92],[22,44],[22,70],[22,52],[23,62],[23,48],[23,85],[24,56],[24,75],[24,100],[25,50],[25,66],[25,88],[26,58],[26,78],[26,112],[27,53],[27,70],[27,95],[28,62],[28,84],[28,57],[29,74],[29,105],[29,66],[30,60],[30,90],[30,128],[31,68],[31,80],[31,140],[32,64],[32,96],[32,75],[33,85],[33,118],[33,70],[34,78],[34,100],[34,155],[35,72],[35,88],[35,130],[36,82],[36,110],[36,76],[37,95],[37,80],[37,145],[38,86],[38,122],[39,90],[39,102],[40,85],[40,115],[40,160],[41,95],[41,135],[42,92],[42,108],[43,100],[43,150],[44,104],[44,125],[45,98],[46,115],[46,140],[47,108],[48,130],[19,95],[17,78],[23,118],[27,132],[20,110],[25,148],[30,165],[36,168],[42,172],[16,66],[22,105],[28,118],[32,108],[38,100],[24,90],[26,96],[21,82],[19,66],[29,86],[31,100],[34,92],[35,112],[33,98],
[41,190],[44,205],[38,175],[36,160],[47,168],[52,150],[55,138],[50,120],
[15.4,41],[16.7,47],[17.3,55],[18.6,44],[19.3,62],[20.7,51],[21.4,73],[22.6,59],[23.3,67],[24.7,82],[25.4,63],[26.6,71],[27.3,88],[28.7,68],[29.4,79],[30.6,97],[31.3,74],[32.7,86],[33.4,108],[34.6,83],[35.3,95],[36.7,119],[37.4,88],[38.7,104],[39.3,112],[40.6,92],[41.4,121],[42.6,99],[43.3,136],[44.6,112],[16.2,58],[18.1,84],[20.2,72],[22.2,88],[24.1,66],[26.1,104],[28.2,96],[30.1,74],[32.2,122],[34.3,138],[36.2,98],[38.1,148],[40.3,128],[19.8,104],[23.8,128],[27.8,146],[31.7,156],[21.6,64],[25.9,54],[29.9,70],[33.8,80],
[15.1,35],[15.8,49],[16.4,39],[16.9,63],[17.6,45],[18.3,58],[18.9,40],[19.6,50],[20.3,45],[20.9,60],[21.6,52],[22.3,78],[22.9,64],[23.6,54],[24.3,61],[24.9,93],[25.6,72],[26.3,62],[26.9,86],[27.6,58],[28.3,75],[28.9,91],[29.6,62],[30.3,84],[30.9,69],[31.6,106],[32.3,70],[32.9,92],[33.6,74],[34.3,88],[34.9,103],[35.6,77],[36.3,91],[36.9,127],[37.6,84],[38.3,96],[38.9,82],[39.6,97],[40.3,108],[41.2,88],[42.4,115],[43.6,93],[44.8,120],[45.7,105],[17.9,92],[20.8,97],[23.4,108],[26.7,120],[29.7,114],[32.6,131],[35.8,150],[39.4,138],[42.9,160],[45.4,149],[21.1,123],[24.6,138],[28.1,155],[18.3,112],[33.1,172],[37.9,160]];

const purpleLower: P[] = [[14,-45],[14,-62],[15,-36],[15,-52],[16,-40],[16,-70],[17,-48],[17,-58],[17,-85],[18,-42],[18,-65],[18,-78],[19,-50],[19,-95],[19,-60],[20,-45],[20,-72],[20,-88],[21,-55],[21,-66],[21,-105],[22,-48],[22,-80],[22,-62],[23,-58],[23,-92],[23,-72],[24,-52],[24,-68],[24,-112],[25,-60],[25,-85],[25,-75],[26,-56],[26,-98],[26,-66],[27,-62],[27,-80],[27,-120],[28,-70],[28,-90],[28,-60],[29,-76],[29,-108],[29,-66],[30,-64],[30,-95],[30,-135],[31,-72],[31,-84],[31,-115],[32,-68],[32,-100],[33,-76],[33,-90],[33,-128],[34,-82],[34,-105],[35,-74],[35,-95],[35,-142],[36,-85],[36,-118],[37,-92],[37,-80],[38,-98],[38,-130],[39,-88],[39,-110],[40,-100],[40,-150],[41,-96],[41,-125],[42,-105],[43,-115],[44,-108],[45,-138],[46,-120],[47,-112],[48,-145],[35,-180],[39,-205],[44,-162],[30,-190],[42,-230],[46,-212],[50,-140],[52,-130],[25,-130],[33,-155],
[15.6,-44],[16.3,-57],[17.7,-41],[18.4,-72],[19.6,-53],[20.4,-83],[21.7,-61],[22.3,-96],[23.6,-66],[24.4,-79],[25.7,-94],[26.3,-72],[27.6,-86],[28.4,-101],[29.7,-81],[30.3,-112],[31.6,-93],[32.4,-76],[33.7,-104],[34.3,-121],[35.6,-84],[36.4,-102],[37.7,-115],[38.3,-91],[39.6,-124],[40.4,-108],[41.7,-136],[42.3,-96],[43.6,-128],[44.4,-118],[17.1,-66],[19.2,-76],[21.2,-90],[23.2,-82],[25.1,-106],[27.2,-98],[29.1,-122],[31.2,-104],[33.2,-140],[35.1,-112],[37.2,-134],[39.1,-148],[22.8,-118],[26.9,-142],[30.9,-156],[18.7,-98],[24.6,-56],[28.8,-52],[32.9,-64],
[15.2,-40],[15.9,-64],[16.6,-47],[17.2,-75],[17.9,-54],[18.6,-88],[19.2,-45],[19.9,-64],[20.6,-52],[21.2,-77],[21.9,-99],[22.6,-58],[23.2,-87],[23.9,-76],[24.6,-103],[25.2,-65],[25.9,-82],[26.6,-113],[27.2,-70],[27.9,-94],[28.6,-80],[29.2,-98],[29.9,-118],[30.6,-76],[31.2,-99],[31.9,-128],[32.6,-85],[33.2,-112],[33.9,-96],[34.6,-136],[35.2,-90],[35.9,-108],[36.6,-126],[37.2,-97],[37.9,-140],[38.6,-107],[39.2,-118],[40.1,-139],[41.3,-104],[42.6,-142],[43.9,-122],[45.2,-130],[46.6,-150],[47.8,-124],[16.1,-98],[18.2,-108],[20.3,-118],[22.6,-128],[24.8,-122],[26.2,-132],[28.3,-142],[31.7,-146],[34.1,-160],[36.7,-170],[29.4,-173],[40.7,-168],[26.8,-160],[23.1,-140]];

const purpleInside: P[] = [[13,15],[14,-19],[15,23],[16,-14],[17,28],[18,-27],[19,21],[20,-33],[21,36],[22,-24],[23,41],[24,-39],[25,30],[26,-44],[27,47],[28,-31],[29,38],[30,-50],[31,53],[32,-42],[33,46],[34,-56],[35,59],[36,-47],[37,51],[38,-61],[39,64],[40,-53],[41,57],[42,-66],[43,68],[44,-59],[15,8],[18,-4],[20,12],[23,-16],[25,2],[27,-8],[29,18],[31,-22],[33,6],[35,-12],[37,26],[39,-30],[41,-2],[43,14],[19,44],[22,50],[26,56],[30,66],[34,70],[17,-38],[21,-46],[25,-55],[29,-60],[33,-68],[37,-72],[24,12],[28,-18],[32,28],[36,2],[40,36],[42,-36],
[13.6,9],[14.7,-12],[15.8,16],[16.9,-22],[17.4,6],[18.5,24],[19.6,-8],[20.7,30],[21.2,-16],[22.3,4],[23.4,-30],[24.5,38],[25.6,-20],[26.1,12],[27.2,-40],[28.3,44],[29.4,-4],[30.5,26],[31.6,-36],[32.1,50],[33.2,-14],[34.3,32],[35.4,-48],[36.5,56],[37.6,-6],[38.1,22],[39.2,-52],[40.3,60],[14.2,24],[16.4,30],[18.8,36],[21.7,42],[23.9,46],[26.6,50],[29.1,54],[31.3,58],[33.8,62],[36.2,64],[16.1,-28],[18.3,-33],[20.9,-38],[23.1,-42],[25.8,-46],[28.7,-50],[31.1,-54],[33.6,-58],[36.4,-62],[38.8,-64]];

const FONT = "'Liberation Serif', 'Times New Roman', Times, 'DejaVu Serif', serif";

export default function App() {
  const left = 101, right = 825, top = 5.6, bottom = 754.4;
  const x = d3.scaleLinear().domain([0, 170]).range([left, right]);
  const y = d3.scaleLinear().domain([-400, 400]).range([bottom, top]);
  const line = d3.line<P>().x((d) => x(d[0])).y((d) => y(d[1]));
  const smooth = d3.line<P>().x((d) => x(d[0])).y((d) => y(d[1])).curve(d3.curveMonotoneX);
  const band = (u: P[], l: P[]) => line([...u, ...l.slice().reverse()]) + "Z";

  const xMinor = d3.range(0, 171, 5).filter((v) => v % 20 !== 0);
  const yMinor = d3.range(-380, 381, 20).filter((v) => v % 100 !== 0);

  const dots = (pts: P[], color: string, key: string) =>
    pts.map((d, i) => (
      <circle key={key + i} cx={x(d[0])} cy={y(d[1])} r={2.5} fill={color} />
    ));

  const fmt = (v: number) => (v < 0 ? "\u2212" + Math.abs(v) : String(v));

  return (
    <svg width={831} height={831} style={{ position: "absolute", left: 0, top: 0, background: "#fff", fontFamily: FONT }}>
      <defs>
        <clipPath id="plot">
          <rect x={left} y={top} width={right - left} height={bottom - top} />
        </clipPath>
      </defs>

      {/* ticks (under the data) */}
      <g stroke="#000">
        {X_MAJOR.map((v) => (
          <g key={"xm" + v} strokeWidth={2.6}>
            <line x1={x(v)} x2={x(v)} y1={bottom} y2={bottom - 15} />
            <line x1={x(v)} x2={x(v)} y1={top} y2={top + 15} />
          </g>
        ))}
        {xMinor.map((v) => (
          <g key={"xn" + v} strokeWidth={1.8}>
            <line x1={x(v)} x2={x(v)} y1={bottom} y2={bottom - 8} />
            <line x1={x(v)} x2={x(v)} y1={top} y2={top + 8} />
          </g>
        ))}
        {Y_MAJOR.map((v) => (
          <g key={"ym" + v} strokeWidth={2.6}>
            <line x1={left} x2={left + 15} y1={y(v)} y2={y(v)} />
            <line x1={right} x2={right - 15} y1={y(v)} y2={y(v)} />
          </g>
        ))}
        {yMinor.map((v) => (
          <g key={"yn" + v} strokeWidth={1.8}>
            <line x1={left} x2={left + 8} y1={y(v)} y2={y(v)} />
            <line x1={right} x2={right - 8} y1={y(v)} y2={y(v)} />
          </g>
        ))}
      </g>

      <g clipPath="url(#plot)">
        {dots(redUpper, "#ff0000", "ru")}
        {dots(redUpperCore, "#ff0000", "rc")}
        {dots(redLower, "#ff0000", "rl")}
        {dots(redLowerCore, "#ff0000", "rk")}
        {dots(orangeInside, "#ffa500", "oi")}
        {dots(orangeUpper, "#ffa500", "ou")}
        {dots(orangeLower, "#ffa500", "ol")}
        {dots(purpleInside, "#800080", "pi")}
        {dots(purpleUpper, "#800080", "pu")}
        {dots(purpleLower, "#800080", "pl")}

        <path d={band(upper2, lower2)} fill="#808080" fillOpacity={0.7} stroke="#808080" strokeOpacity={0.7} strokeWidth={1.2} />
        <path d={band(upper1, lower1)} fill="#ffc0cb" fillOpacity={0.5} stroke="#ffc0cb" strokeOpacity={0.6} strokeWidth={1.2} />

        <path d={line(correct1)!} fill="none" stroke="#000" strokeWidth={3} />
        <path d={line(correct1Low)!} fill="none" stroke="#000" strokeWidth={3} />
        <path d={line(correct2)!} fill="none" stroke="#0000ff" strokeWidth={3} />
        <path d={line(correct2Low)!} fill="none" stroke="#0000ff" strokeWidth={3} />
        <path d={smooth(median)!} fill="none" stroke="#2e8b57" strokeWidth={3} />
      </g>

      {/* spines */}
      <rect x={left} y={top} width={right - left} height={bottom - top} fill="none" stroke="#000" strokeWidth={3} />

      {/* tick labels */}
      <g fontSize={25} fill="#000">
        {X_MAJOR.map((v) => (
          <text key={"xl" + v} x={x(v)} y={783} textAnchor="middle">{fmt(v)}</text>
        ))}
        {Y_MAJOR.map((v) => (
          <text key={"yl" + v} x={95} y={y(v) + 8.5} textAnchor="end">{fmt(v)}</text>
        ))}
      </g>

      {/* axis labels */}
      <text x={459} y={815} fontSize={28} textAnchor="middle">
        PDF uncertainty, <tspan fontStyle="italic">σ</tspan>
        <tspan fontSize={20} dy={5}>PDF</tspan>
        <tspan dy={-5}> [km/s]</tspan>
      </text>
      <text transform="translate(27,422) rotate(-90)" fontSize={26} textAnchor="middle">
        <tspan fontStyle="italic">v</tspan>
        <tspan fontSize={18.5} dy={5}>max</tspan>
        <tspan dy={-5}> − </tspan>
        <tspan fontStyle="italic">v</tspan>
        <tspan fontSize={18.5} dy={5}>True</tspan>
        <tspan dy={-5}> [km/s]</tspan>
      </text>

      {/* legend: populations */}
      <g fontSize={28} fill="#222">
        <rect x={198} y={21} width={529} height={88} rx={5} fill="#fff" stroke="#808080" strokeWidth={1.5} />
        <circle cx={238} cy={44} r={3.2} fill="#ffa500" />
        <text x={270} y={52}>True Halo, Likely Halo</text>
        <circle cx={238} cy={85} r={3.2} fill="#ff0000" />
        <text x={270} y={92}>True Halo, Likely Disc</text>
        <circle cx={572} cy={44} r={3.2} fill="#800080" />
        <text x={603} y={52}>True Disc</text>
      </g>

      {/* legend: correct widths */}
      <g fontSize={28} fill="#222">
        <rect x={123} y={618} width={391} height={49} rx={5} fill="#fff" stroke="#808080" strokeWidth={1.5} />
        <line x1={133} x2={191} y1={639} y2={639} stroke="#000" strokeWidth={2} />
        <text x={193} y={647}>Correct 1<tspan fontStyle="italic">σ</tspan></text>
        <line x1={321} x2={379} y1={639} y2={639} stroke="#0000ff" strokeWidth={2} />
        <text x={381} y={647}>Correct 2<tspan fontStyle="italic">σ</tspan></text>
      </g>

      {/* legend: measured */}
      <g fontSize={28} fill="#222">
        <rect x={116} y={692} width={359} height={48} rx={5} fill="#fff" stroke="#808080" strokeWidth={1.5} />
        <line x1={126} x2={185} y1={713} y2={713} stroke="#2e8b57" strokeWidth={2} />
        <text x={187} y={722}>Median</text>
        <rect x={280} y={703} width={58} height={20} fill="#ffc0cb" fillOpacity={0.5} stroke="#ffc0cb" strokeOpacity={0.6} />
        <text x={342} y={722}>1<tspan fontStyle="italic">σ</tspan></text>
        <rect x={375} y={703} width={58} height={20} fill="#808080" fillOpacity={0.7} stroke="#808080" strokeOpacity={0.7} />
        <text x={436} y={722}>2<tspan fontStyle="italic">σ</tspan></text>
      </g>
    </svg>
  );
}
